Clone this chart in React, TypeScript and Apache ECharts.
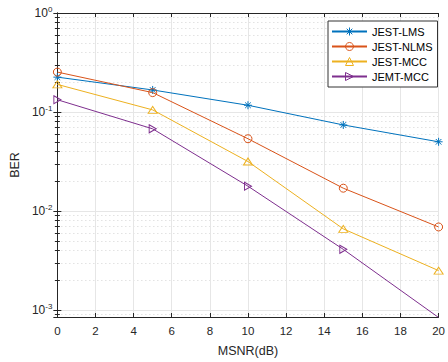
import React, { useEffect, useRef } from "react";
import * as echarts from "echarts";

const snr = [0, 5, 10, 15, 20];
const lms = [0.225, 0.167, 0.117, 0.074, 0.05];
const nlms = [0.253, 0.157, 0.0537, 0.017, 0.0069];
const mcc = [0.19, 0.105, 0.0316, 0.0066, 0.0025];
const jemt = [0.133, 0.0676, 0.0178, 0.0041, 0.00084];
const seriesNames = ["JEST-LMS", "JEST-NLMS", "JEST-MCC", "JEMT-MCC"];
const xTicks = [0, 2, 4, 6, 8, 10, 12, 14, 16, 18, 20];

const COLORS = ["#0072BD", "#D95319", "#EDB120", "#7E2F8E"];
const SYMBOLS = [
  "path://M5,0 L5,10 M0,5 L10,5 M1.5,1.5 L8.5,8.5 M1.5,8.5 L8.5,1.5",
  "circle",
  "triangle",
  "path://M0,0 L10,5 L0,10 Z",
];
const SIZES: any[] = [8, 8, [9, 7], [7, 8]];
const FONT = "Liberation Sans, Arial, Helvetica, sans-serif";
const AX = "#262626";
const CLEAR = "rgba(255,255,255,0)";

export default function App() {
  const ref = useRef<HTMLDivElement>(null);
  useEffect(() => {
    if (!ref.current) return;
    const chart = echarts.init(ref.current, null, { renderer: "svg" });
    const data = [lms, nlms, mcc, jemt];
    const yLabel = (v: number) => {
      const e = Math.log10(v);
      if (Math.abs(e - Math.round(e)) > 1e-6) return "";
      return `{b|10}{s|${Math.round(e)}}`;
    };
    const yBase: any = {
      type: "log",
      logBase: 10,
      min: 0.00085,
      max: 1,
      axisLine: { show: true, lineStyle: { color: AX, width: 1 } },
    };
    chart.setOption({
      animation: false,
      textStyle: { fontFamily: FONT },
      grid: { left: 53, right: 4, top: 13, bottom: 42, containLabel: false },
      legend: {
        orient: "vertical",
        left: 328,
        top: 21,
        padding: [5, 5, 5, 3],
        itemWidth: 35,
        itemHeight: 10,
        itemGap: 4,
        backgroundColor: "#fff",
        borderColor: "#333",
        borderWidth: 1,
        borderRadius: 0,
        textStyle: { fontSize: 11, color: "#000", fontFamily: FONT },
        data: seriesNames.map((name, i) => ({
          name,
          itemStyle: { color: CLEAR, borderColor: COLORS[i], borderWidth: 1 },
        })),
      },
      xAxis: [
        {
          type: "value",
          min: 0,
          max: 20,
          interval: 2,
          name: "MSNR(dB)",
          nameLocation: "middle",
          nameGap: 27,
          nameTextStyle: { fontSize: 12.5, color: AX, fontFamily: FONT },
          axisLine: { show: true, onZero: false, lineStyle: { color: AX } },
          axisTick: { inside: true, length: 4, lineStyle: { color: AX } },
          axisLabel: {
            fontSize: 11.5,
            color: AX,
            margin: 8,
            formatter: (v: number) => (xTicks.includes(v) ? String(v) : ""),
          },
          splitLine: { show: true, lineStyle: { color: "#e6e6e6", width: 1 } },
        },
        {
          type: "value",
          position: "top",
          min: 0,
          max: 20,
          interval: 2,
          axisLine: { show: true, onZero: false, lineStyle: { color: AX } },
          axisTick: { inside: true, length: 4, lineStyle: { color: AX } },
          axisLabel: { show: false },
          splitLine: { show: false },
        },
      ],
      yAxis: [
        {
          ...yBase,
          name: "BER",
          nameLocation: "middle",
          nameGap: 34,
          nameTextStyle: { fontSize: 12.5, color: AX, fontFamily: FONT },
          axisTick: { inside: true, length: 4, lineStyle: { color: AX } },
          minorTick: { show: true, splitNumber: 9, length: 2.5, lineStyle: { color: AX } },
          minorSplitLine: {
            show: true,
            lineStyle: { color: "#d4d4d4", type: [1, 3], width: 1 },
          },
          splitLine: { show: true, lineStyle: { color: "#e6e6e6", width: 1 } },
          axisLabel: {
            formatter: yLabel,
            margin: 5,
            rich: {
              b: { fontSize: 12, color: AX, fontFamily: FONT },
              s: { fontSize: 8, color: AX, fontFamily: FONT, padding: [0, 0, 8, 0] },
            },
          },
        },
        {
          ...yBase,
          position: "right",
          axisTick: { inside: true, length: 4, lineStyle: { color: AX } },
          minorTick: { show: true, splitNumber: 9, length: 2.5, lineStyle: { color: AX } },
          splitLine: { show: false },
          axisLabel: { show: false },
        },
      ],
      series: seriesNames.map((name, i) => ({
        name,
        type: "line",
        xAxisIndex: 0,
        yAxisIndex: 0,
        data: snr.map((x, j) => [x, data[i][j]]),
        symbol: SYMBOLS[i],
        symbolSize: SIZES[i],
        showAllSymbol: true,
        color: COLORS[i],
        lineStyle: { color: COLORS[i], width: 1 },
        itemStyle: { color: CLEAR, borderColor: COLORS[i], borderWidth: 1 },
        emphasis: { disabled: true },
        z: 3 + i,
      })),
    });
    return () => chart.dispose();
  }, []);
  return (
    <div
      ref={ref}
      style={{ position: "absolute", left: 0, top: 0, width: 448, height: 362, background: "#fff" }}
    />
  );
}
